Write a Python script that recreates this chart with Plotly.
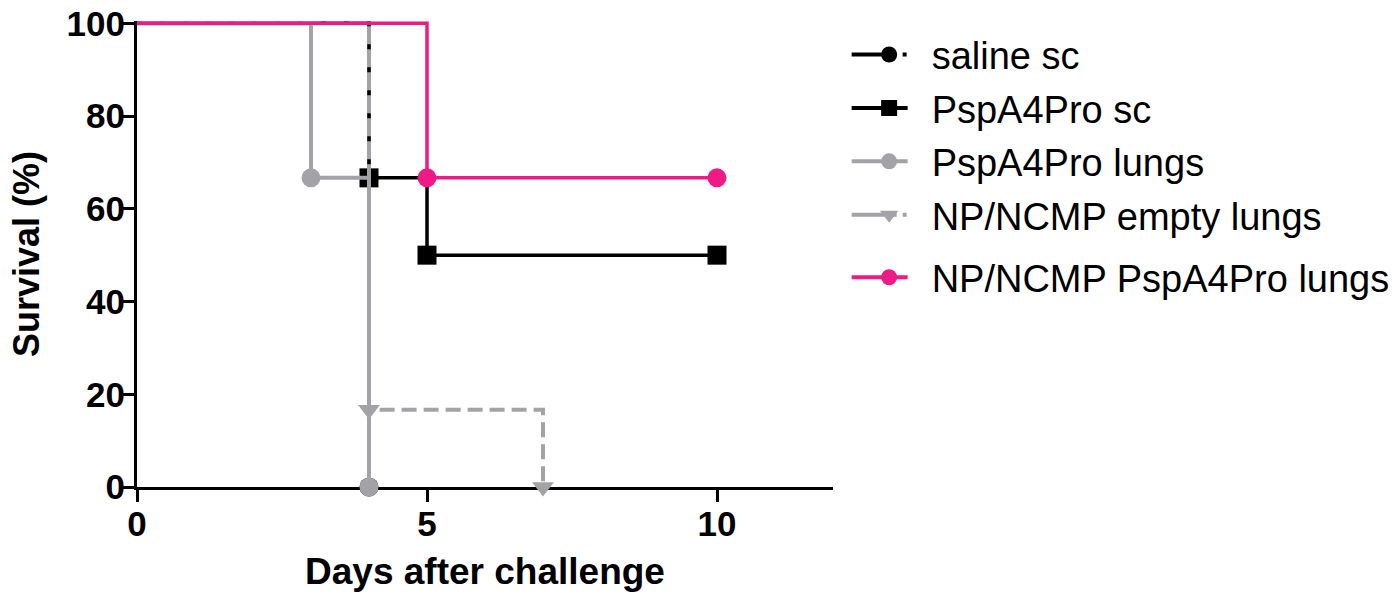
import plotly.graph_objects as go

# ---------------- data ----------------
series_names = ["saline sc", "PspA4Pro sc", "PspA4Pro lungs",
                "NP/NCMP empty lungs", "NP/NCMP PspA4Pro lungs"]

saline_days = [0, 4]
saline_surv = [100, 0]

psc_days = [0, 4, 5, 10]
psc_surv = [100, 66.67, 50, 50]

plungs_days = [0, 3, 4]
plungs_surv = [100, 66.67, 0]

empty_days = [0, 4, 7]
empty_surv = [100, 16.67, 0]

np_days = [0, 5, 10]
np_surv = [100, 66.67, 66.67]

x_ticks = [0, 5, 10]
y_ticks = [0, 20, 40, 60, 80, 100]

# ---------------- styles ----------------
BLACK = "#000000"
GREY = "#A3A3A7"
PINK = "#EE1A85"
FONT = "Liberation Sans, Arial, sans-serif"

saline_dash = "5px,18px"
empty_dash = "622px,7px," + ",".join(["15px,7px"] * 14)
legend_dotted = "45px,6px,4px,300px"
legend_solid = "56px,300px"


def step_line(x, y, color, width, dash="solid"):
    return go.Scatter(x=x, y=y, mode="lines",
                      line=dict(shape="hv", color=color, width=width, dash=dash),
                      showlegend=False, hoverinfo="skip")


def event_marks(x, y, color, symbol, size=19):
    return go.Scatter(x=x[1:], y=y[1:], mode="markers",
                      marker=dict(color=color, symbol=symbol, size=size, line=dict(width=0)),
                      cliponaxis=False, showlegend=False, hoverinfo="skip")


def legend_entry(name, color, symbol, width, dash, group, legend="legend"):
    return go.Scatter(x=[None], y=[None], mode="lines+markers", name=name,
                      legendgroup=group, legend=legend,
                      line=dict(color=color, width=width, dash=dash),
                      marker=dict(color=color, symbol=symbol, size=16))


fig = go.Figure()

# drawing order chosen to mimic overlaps in the reference
fig.add_trace(step_line(psc_days, psc_surv, BLACK, 3.5))
fig.add_trace(event_marks(psc_days, psc_surv, BLACK, "square"))
fig.add_trace(event_marks(saline_days, saline_surv, BLACK, "circle"))
fig.add_trace(step_line(empty_days, empty_surv, GREY, 4, empty_dash))
fig.add_trace(event_marks(empty_days, empty_surv, GREY, "triangle-down"))
fig.add_trace(step_line(saline_days, saline_surv, BLACK, 3.5, saline_dash))
fig.add_trace(step_line(plungs_days, plungs_surv, GREY, 4))
fig.add_trace(event_marks(plungs_days, plungs_surv, GREY, "circle"))
fig.add_trace(step_line(np_days, np_surv, PINK, 3.5))
fig.add_trace(event_marks(np_days, np_surv, PINK, "circle"))

# legend entries
fig.add_trace(legend_entry(series_names[0], BLACK, "circle", 4, legend_dotted, "g0"))
fig.add_trace(legend_entry(series_names[1], BLACK, "square", 4, legend_solid, "g1"))
fig.add_trace(legend_entry(series_names[2], GREY, "circle", 4, legend_solid, "g2"))
fig.add_trace(legend_entry(series_names[3], GREY, "triangle-down", 4, legend_dotted, "g3"))
fig.add_trace(legend_entry(series_names[4], PINK, "circle", 4, legend_solid, "g4", "legend2"))

axis_common = dict(
    showgrid=False, zeroline=False, showline=True, linecolor=BLACK, linewidth=3,
    ticks="outside", ticklen=12, tickwidth=3, tickcolor=BLACK,
    tickfont=dict(family=FONT, size=35, color=BLACK, weight="bold"),
    layer="below traces", automargin=False, ticklabeloverflow="allow",
)

legend_common = dict(xanchor="left", yanchor="top",
                     font=dict(family=FONT, size=38, color=BLACK),
                     itemwidth=75, tracegroupgap=1, traceorder="grouped",
                     bgcolor="rgba(0,0,0,0)")

fig.update_layout(
    width=1399, height=596,
    margin=dict(l=137, r=566, t=21, b=109, autoexpand=False),
    paper_bgcolor="white", plot_bgcolor="white",
    font=dict(family=FONT, color=BLACK),
    showlegend=True,
    legend=dict(x=1.0196, y=0.995, **legend_common),
    legend2=dict(x=1.0196, y=0.517, **legend_common),
    xaxis=dict(range=[0, 12], tickvals=x_ticks, ticklabelstandoff=-8,
               title=dict(text="Days after challenge", standoff=17,
                          font=dict(family=FONT, size=37, color=BLACK, weight="bold")),
               **axis_common),
    yaxis=dict(range=[0, 100.5], tickvals=y_ticks, ticklabelstandoff=-10,
               title=dict(text="Survival (%)", standoff=16,
                          font=dict(family=FONT, size=36, color=BLACK, weight="bold")),
               **axis_common),
)

# remove the default page margin so the figure fills the window exactly
fig.write_html("out.html", config={"displayModeBar": False},
               post_script="document.body.style.margin='0';")
